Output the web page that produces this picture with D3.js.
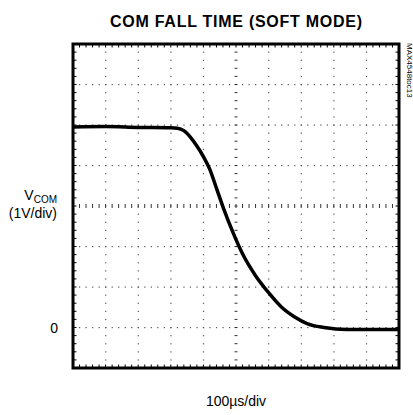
<!DOCTYPE html>
<html lang="en">
<head>
<meta charset="utf-8">
<title>COM fall time (soft mode)</title>
<script src="https://d3js.org/d3.v7.min.js"></script>
<style>
  body { margin: 0; background: #fff; }
  text { font-family: "Liberation Sans", Arial, sans-serif; fill: #000; }
</style>
</head>
<body>
<script>
// scope trace (time in us, level in volts)
var timeUs = [0, 100, 200, 300, 320, 340, 360, 380, 400, 420, 440, 460, 490, 520, 560, 600, 640, 680, 720, 770, 840, 920, 1000];
var volts  = [4.95, 4.96, 4.94, 4.93, 4.92, 4.86, 4.70, 4.48, 4.22, 3.90, 3.44, 2.98, 2.36, 1.82, 1.28, 0.86, 0.50, 0.26, 0.09, 0.0, -0.05, -0.05, -0.05];

var xDivs = d3.range(0, 1001, 100);   // 100us/div
var yDivs = d3.range(-1, 8, 1);       // 1V/div

var w = 413, h = 415;
// note: "top" is a read-only global in the browser, so use other names
var plotL = 73, plotR = 399, plotT = 44, plotB = 368;

var svg = d3.select("body").append("svg")
    .attr("width", w)
    .attr("height", h);

var x = d3.scaleLinear().domain([0, 1000]).range([plotL, plotR]);
var y = d3.scaleLinear().domain([-1, 7]).range([plotB, plotT]);

// minor positions, 5 per division
var xMinor = d3.range(0, 1001, 20);
var yMinor = d3.range(-1, 7.001, 0.2);

var grid = svg.append("g");

// dotted grid lines
xDivs.slice(1, -1).forEach(function(t) {
    if (t == 500) return;
    grid.selectAll(null)
        .data(yMinor.slice(1, -1))
        .enter().append("rect")
        .attr("x", x(t) - 0.5).attr("y", function(v) { return y(v) - 0.5; })
        .attr("width", 1.2).attr("height", 1.2)
        .attr("fill", "#555");
});
yDivs.slice(1, -1).forEach(function(v) {
    if (v == 3) return;
    grid.selectAll(null)
        .data(xMinor.slice(1, -1))
        .enter().append("rect")
        .attr("x", function(t) { return x(t) - 0.5; }).attr("y", y(v) - 0.5)
        .attr("width", 1.2).attr("height", 1.2)
        .attr("fill", "#555");
});

// centre axes with minor tick marks
grid.selectAll(null)
    .data(xMinor.slice(1, -1))
    .enter().append("line")
    .attr("x1", function(t) { return x(t); }).attr("x2", function(t) { return x(t); })
    .attr("y1", y(3) - 2).attr("y2", y(3) + 2)
    .attr("stroke", "#333").attr("stroke-width", 1);
grid.selectAll(null)
    .data(yMinor.slice(1, -1))
    .enter().append("line")
    .attr("y1", function(v) { return y(v); }).attr("y2", function(v) { return y(v); })
    .attr("x1", x(500) - 1.5).attr("x2", x(500) + 1.5)
    .attr("stroke", "#333").attr("stroke-width", 1);

// ticks along the frame
grid.selectAll(null)
    .data(xMinor.slice(1, -1))
    .enter().append("line")
    .attr("x1", function(t) { return x(t); }).attr("x2", function(t) { return x(t); })
    .attr("y1", plotT).attr("y2", plotT + 3.5)
    .attr("stroke", "#000").attr("stroke-width", 1);
grid.selectAll(null)
    .data(xMinor.slice(1, -1))
    .enter().append("line")
    .attr("x1", function(t) { return x(t); }).attr("x2", function(t) { return x(t); })
    .attr("y1", plotB).attr("y2", plotB - 3.5)
    .attr("stroke", "#000").attr("stroke-width", 1);
grid.selectAll(null)
    .data(yMinor.slice(1, -1))
    .enter().append("line")
    .attr("y1", function(v) { return y(v); }).attr("y2", function(v) { return y(v); })
    .attr("x1", plotL).attr("x2", plotL + 3.5)
    .attr("stroke", "#000").attr("stroke-width", 1);
grid.selectAll(null)
    .data(yMinor.slice(1, -1))
    .enter().append("line")
    .attr("y1", function(v) { return y(v); }).attr("y2", function(v) { return y(v); })
    .attr("x1", plotR).attr("x2", plotR - 3.5)
    .attr("stroke", "#000").attr("stroke-width", 1);

// frame
svg.append("rect")
    .attr("x", plotL).attr("y", plotT)
    .attr("width", plotR - plotL).attr("height", plotB - plotT)
    .attr("fill", "none")
    .attr("stroke", "#000")
    .attr("stroke-width", 3);

// the trace
var line = d3.line()
    .x(function(d) { return x(d[0]); })
    .y(function(d) { return y(d[1]); })
    .curve(d3.curveMonotoneX);

svg.append("path")
    .datum(d3.zip(timeUs, volts))
    .attr("d", line)
    .attr("fill", "none")
    .attr("stroke", "#000")
    .attr("stroke-width", 3.5);

// labels
svg.append("text")
    .attr("x", 236).attr("y", 27)
    .attr("text-anchor", "middle")
    .attr("font-size", 16).attr("font-weight", "bold")
    .attr("textLength", 252).attr("lengthAdjust", "spacing")
    .text("COM FALL TIME (SOFT MODE)");

var vlab = svg.append("text")
    .attr("x", 57).attr("y", 200)
    .attr("text-anchor", "end")
    .attr("font-size", 14);
vlab.append("tspan").text("V");
vlab.append("tspan").attr("font-size", 10).attr("dy", 3).text("COM");

svg.append("text")
    .attr("x", 57).attr("y", 218)
    .attr("text-anchor", "end")
    .attr("font-size", 14)
    .text("(1V/div)");

svg.append("text")
    .attr("x", 58).attr("y", y(0) + 5)
    .attr("text-anchor", "end")
    .attr("font-size", 14)
    .text("0");

svg.append("text")
    .attr("x", 236).attr("y", 406)
    .attr("text-anchor", "middle")
    .attr("font-size", 14)
    .text("100\u00b5s/div");

svg.append("text")
    .attr("transform", "translate(407,43) rotate(90)")
    .attr("font-size", 8)
    .text("MAX4548toc13");
</script>
</body>
</html>
